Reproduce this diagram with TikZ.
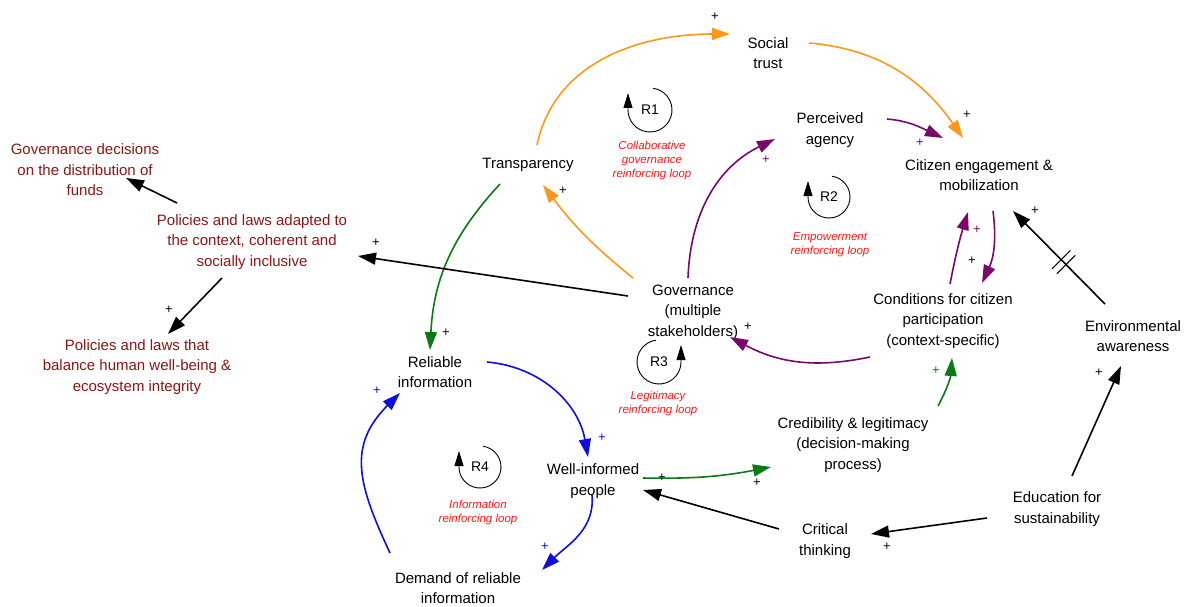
\documentclass[tikz,border=0pt]{standalone}
\usepackage{fontspec}
\setmainfont{Liberation Sans}
\usetikzlibrary{arrows.meta}
\definecolor{polred}{RGB}{140,22,22}
\definecolor{cldorange}{RGB}{255,152,24}
\definecolor{cldpurple}{RGB}{122,8,108}
\definecolor{cldgreen}{RGB}{10,122,20}
\definecolor{cldblue}{RGB}{14,14,226}
\definecolor{loopred}{RGB}{255,24,24}

\begin{document}
\begin{tikzpicture}[x=1pt,y=1pt,
    var/.style={align=center,inner sep=0pt,font=\fontsize{15}{20.5}\selectfont},
    pol/.style={var,text=polred},
    link/.style={line width=1.6pt,-{Triangle[length=18pt,width=12pt]}},
    sgn/.style={inner sep=0pt,font=\fontsize{13}{13}\selectfont},
    loopname/.style={inner sep=0pt,font=\fontsize{14}{14}\selectfont},
    looptext/.style={align=center,text=loopred,font=\fontsize{11.5}{14}\selectfont\itshape},
    loopline/.style={line width=0.9pt,-{Triangle[length=15pt,width=9pt]}}]
  \useasboundingbox (0,0) rectangle (1186,-607);

  \node[var] (social)  at (768,-53)  {Social\\trust};
  \node[var] (agency)  at (830,-130) {Perceived\\agency};
  \node[var] (engage)  at (979,-175) {Citizen engagement \&\\mobilization};
  \node[var] (transp)  at (528,-165) {Transparency};
  \node[var] (gov)     at (693,-312) {Governance\\(multiple\\stakeholders)};
  \node[var] (cond)    at (943,-321) {Conditions for citizen\\participation\\(context-specific)};
  \node[var] (envaw)   at (1133,-336) {Environmental\\awareness};
  \node[var] (relinfo) at (435,-372) {Reliable\\information};
  \node[var] (cred)    at (853,-445) {Credibility \& legitimacy\\(decision-making\\process)};
  \node[var] (wellinf) at (593,-481) {Well-informed\\people};
  \node[var] (edu)     at (1057,-509) {Education for\\sustainability};
  \node[var] (crit)    at (825,-541) {Critical\\thinking};
  \node[var] (demand)  at (458,-588) {Demand of reliable\\information};
  \node[pol] (funds)   at (85,-170)  {Governance decisions\\on the distribution of\\funds};
  \node[pol] (adapted) at (252,-242) {Policies and laws adapted to\\the context, coherent and\\socially inclusive};
  \node[pol] (balance) at (137,-367) {Policies and laws that\\balance human well-being \&\\ecosystem integrity};

  % R1
  \draw[link,cldorange] ([shift={(9,20)}]transp.center) to[out=78,in=180] ([shift={(-38,19)}]social.center);
  \draw[link,cldorange] ([shift={(41,10)}]social.center) to[out=-5,in=125] ([shift={(-16,37)}]engage.center);
  \draw[link,cldorange] ([shift={(-60,34)}]gov.center) to[bend left=7] ([shift={(15,-20)}]transp.center);
  % R2
  \draw[link,cldpurple] ([shift={(-5,34)}]gov.center) to[out=88,in=206] ([shift={(-55,-9)}]agency.center);
  \draw[link,cldpurple] ([shift={(57,11)}]agency.center) to[out=-5,in=155] ([shift={(-36,37)}]engage.center);
  \draw[link,cldpurple] ([shift={(7,37)}]cond.center) to[bend left=3] ([shift={(-11,-37)}]engage.center);
  \draw[link,cldpurple] ([shift={(14,-36)}]engage.center) to[bend left=16] ([shift={(39,38)}]cond.center);
  \draw[link,cldpurple] ([shift={(-73,-36)}]cond.center) to[bend left=20] ([shift={(37,-25)}]gov.center);
  % R3
  \draw[link,cldgreen] ([shift={(-28,-19)}]transp.center) to[bend right=20] ([shift={(-5,22)}]relinfo.center);
  \draw[link,cldgreen] ([shift={(50,3)}]wellinf.center) to[bend right=6] ([shift={(-82,-22)}]cred.center);
  \draw[link,cldgreen] ([shift={(85,39)}]cred.center) to[bend right=12] ([shift={(9,-37)}]cond.center);
  % R4
  \draw[link,cldblue] ([shift={(52,10)}]relinfo.center) to[out=-5,in=100] ([shift={(-5,24)}]wellinf.center);
  \draw[link,cldblue] ([shift={(-1,-14)}]wellinf.center) to[out=-85,in=45] ([shift={(84,18)}]demand.center);
  \draw[link,cldblue] ([shift={(-68,35)}]demand.center) to[out=115,in=225,looseness=1.2] ([shift={(-35,-21)}]relinfo.center);

  \draw[link] ([shift={(-65,16)}]gov.center) -- ([shift={(106,-14)}]adapted.center);
  \draw[link] ([shift={(-75,39)}]adapted.center) -- ([shift={(41,-8)}]funds.center);
  \draw[link] ([shift={(-30,-36)}]adapted.center) -- ([shift={(31,33)}]balance.center);
  \draw[link] ([shift={(-28,32)}]envaw.center) -- coordinate[pos=0.45] (delay) ([shift={(34,-36)}]engage.center);
  \draw[line width=1.1pt] ([shift={(135:3.5)}]delay) ++(45:13) -- ++(225:26);
  \draw[line width=1.1pt] ([shift={(-45:3.5)}]delay) ++(45:13) -- ++(225:26);
  \draw[link] ([shift={(15,33)}]edu.center) -- ([shift={(-12,-30)}]envaw.center);
  \draw[link] ([shift={(-70,-9)}]edu.center) -- ([shift={(46,7)}]crit.center);
  \draw[link] ([shift={(-46,12)}]crit.center) -- ([shift={(50,-9)}]wellinf.center);

  \node[sgn] (p1) at (715,-17) {+};
  \node[sgn] (p2) at (967,-115) {+};
  \node[sgn] (p3) at (563,-191) {+};
  \node[sgn,cldpurple] (p4) at (766,-160) {+};
  \node[sgn,cldpurple] (p5) at (920,-143) {+};
  \node[sgn,cldpurple] (p6) at (977,-230) {+};
  \node[sgn] (p7) at (972,-261) {+};
  \node[sgn] (p8) at (748,-327) {+};
  \node[sgn] (p9) at (446,-333) {+};
  \node[sgn] (p10) at (662,-478) {+};
  \node[sgn] (p11) at (757,-483) {+};
  \node[sgn,cldgreen] (p12) at (936,-371) {+};
  \node[sgn,cldblue] (p13) at (602,-438) {+};
  \node[sgn,cldblue] (p14) at (545,-547) {+};
  \node[sgn,cldblue] (p15) at (377,-391) {+};
  \node[sgn] (p16) at (376,-243) {+};
  \node[sgn] (p17) at (169,-310) {+};
  \node[sgn] (p18) at (1035,-211) {+};
  \node[sgn] (p19) at (1099,-373) {+};
  \node[sgn] (p20) at (887,-547) {+};

  \node[loopname] (r1) at (650,-110) {R1};
  \draw[loopline] ([shift={(82:22)}]r1.center) arc[start angle=82,end angle=-180,radius=22] -- ++(0,17);
  \node[looptext] (r1txt) at (652,-161) {Collaborative\\governance\\reinforcing loop};
  \node[loopname] (r2) at (829,-197) {R2};
  \draw[loopline] ([shift={(82:21)}]r2.center) arc[start angle=82,end angle=-180,radius=21] -- ++(0,16);
  \node[looptext] (r2txt) at (830,-245) {Empowerment\\reinforcing loop};
  \node[loopname] (r3) at (659,-362) {R3};
  \draw[loopline] ([shift={(98:22)}]r3.center) arc[start angle=98,end angle=360,radius=22] -- ++(0,17);
  \node[looptext] (r3txt) at (658,-404) {Legitimacy\\reinforcing loop};
  \node[loopname] (r4) at (480,-467) {R4};
  \draw[loopline] ([shift={(82:21)}]r4.center) arc[start angle=82,end angle=-180,radius=21] -- ++(0,16);
  \node[looptext] (r4txt) at (478,-513) {Information\\reinforcing loop};
\end{tikzpicture}
\end{document}
